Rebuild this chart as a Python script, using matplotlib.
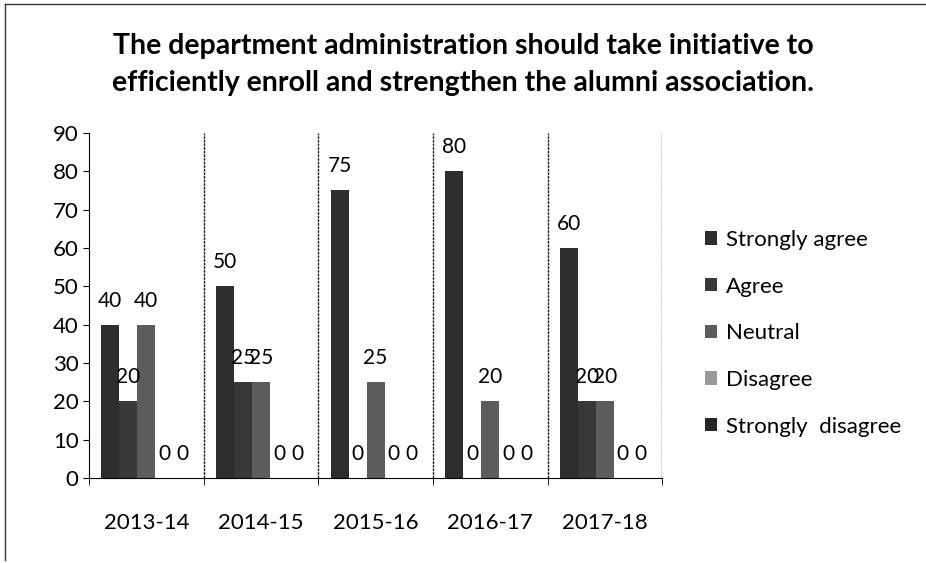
import numpy as np
import matplotlib.pyplot as plt
from matplotlib.lines import Line2D

plt.rcParams['font.family'] = ['Lato', 'DejaVu Sans']

years = ['2013-14', '2014-15', '2015-16', '2016-17', '2017-18']
series = ['Strongly agree', 'Agree', 'Neutral', 'Disagree', 'Strongly  disagree']
strongly_agree = [40, 50, 75, 80, 60]
agree = [20, 25, 0, 0, 20]
neutral = [40, 25, 25, 20, 20]
disagree = [0, 0, 0, 0, 0]
strongly_disagree = [0, 0, 0, 0, 0]
values = [strongly_agree, agree, neutral, disagree, strongly_disagree]
colors = ['#2e2e2e', '#383838', '#5c5c5c', '#9a9a9a', '#262626']

fig = plt.figure(figsize=(9.26, 5.63), dpi=100)
ax = fig.add_axes([0.0961, 0.151, 0.619, 0.613])

x = np.arange(len(years))
w = 0.157
for i, (name, vals) in enumerate(zip(series, values)):
    bars = ax.bar(x + (i - 2) * w, vals, w, color=colors[i], label=name)
    ax.bar_label(bars, padding=10, fontsize=15)

ax.set_xlim(-0.5, len(years) - 0.5)
ax.set_ylim(0, 90)
ax.set_yticks(np.arange(0, 91, 10))
ax.tick_params(axis='y', labelsize=16, length=4, direction='out')
ax.set_xticks(x)
ax.set_xticklabels(years, fontsize=16)
ax.tick_params(axis='x', length=0, pad=25)
ax.set_xticks(np.arange(-0.5, len(years), 1), minor=True)
ax.tick_params(axis='x', which='minor', length=5)
for b in np.arange(0.5, len(years) + 0.5, 1):
    ax.axvline(b, color='#222222', lw=1, ls=(0, (2, 0.6)))
ax.spines['top'].set_visible(False)
ax.spines['right'].set_visible(False)

ax.legend(loc='center left', bbox_to_anchor=(0.761, 0.408), bbox_transform=fig.transFigure,
          frameon=False, borderaxespad=0, borderpad=0,
          fontsize=16, handlelength=0.55, handleheight=0.55, handletextpad=0.4,
          labelspacing=1.2)

fig.text(0.5, 0.885, 'The department administration should take initiative to\n'
         'efficiently enroll and strengthen the alumni association.',
         ha='center', va='center', fontsize=20.5, fontweight='bold', linespacing=1.5)

fig.add_artist(Line2D([0.005, 0.005], [0.005, 0.993], color='#333333', lw=1))
fig.add_artist(Line2D([0.005, 1.0], [0.993, 0.993], color='#333333', lw=1))

fig.savefig('out.png', dpi=100)
